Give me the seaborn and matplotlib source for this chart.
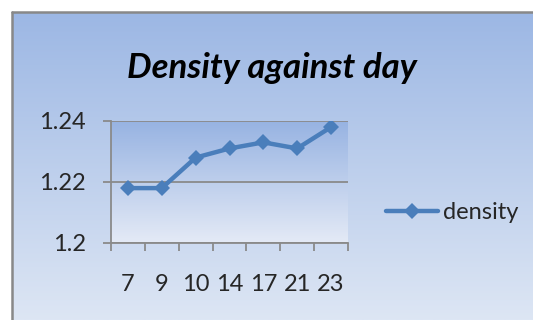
import numpy as np
import pandas as pd
import matplotlib
matplotlib.use('Agg')
import matplotlib.pyplot as plt
import seaborn as sns
from matplotlib.colors import LinearSegmentedColormap
from matplotlib.lines import Line2D

days = ['7', '9', '10', '14', '17', '21', '23']
density = [1.218, 1.218, 1.228, 1.231, 1.233, 1.231, 1.238]
y_ticks = [1.2, 1.22, 1.24]
y_labels = ['1.2', '1.22', '1.24']

sns.set_theme(style='white')
plt.rcParams['font.family'] = ['Lato', 'DejaVu Sans']

W, H = 533, 320
fig = plt.figure(figsize=(W / 100, H / 100), dpi=100)
fig.patch.set_facecolor('white')

# chart area background (gradient) with grey border on top and left
bg = fig.add_axes([12 / W, 0, 1 - 12 / W, 1 - 12 / H])
bg_cmap = LinearSegmentedColormap.from_list('bg', ['#9cb7e4', '#dde6f4'])
bg.imshow(np.linspace(0, 1, 256).reshape(-1, 1), aspect='auto', cmap=bg_cmap,
          extent=[0, 1, 0, 1], origin='upper')
bg.set_axis_off()
fig.add_artist(Line2D([12 / W, 12 / W], [0, 1 - 12 / H], color='#888888', lw=1.8,
                      transform=fig.transFigure))
fig.add_artist(Line2D([12 / W, 1], [1 - 12 / H, 1 - 12 / H], color='#888888', lw=1.8,
                      transform=fig.transFigure))

left, right = 111 / W, 348 / W
top, bottom = 1 - 121 / H, 1 - 243 / H
ax = fig.add_axes([left, bottom, right - left, top - bottom])
ax.patch.set_alpha(0)

df = pd.DataFrame({'day': days, 'density': density, 'pos': range(len(days))})

# plot area gradient
pa_cmap = LinearSegmentedColormap.from_list('pa', ['#97b3e2', '#e4eaf6'])
ax.imshow(np.linspace(0, 1, 256).reshape(-1, 1), aspect='auto', cmap=pa_cmap,
          extent=[-0.5, len(days) - 0.5, 1.2, 1.24], origin='upper', zorder=0)

sns.lineplot(data=df, x='pos', y='density', ax=ax, color='#4a7ebb', lw=3.2,
             marker='D', markersize=8, markeredgewidth=0, label='density',
             zorder=3)

ax.set_xlim(-0.5, len(days) - 0.5)
ax.set_ylim(1.2, 1.24)
ax.set_yticks(y_ticks)
ax.set_yticklabels(y_labels, fontsize=17)
ax.yaxis.grid(True, color='#8a8a8a', lw=1.3)
ax.set_axisbelow(False)

ax.set_xticks(np.arange(-0.5, len(days), 1.0))
ax.set_xticklabels([])
ax.set_xticks(range(len(days)), minor=True)
ax.set_xticklabels(days, minor=True, fontsize=17)
ax.tick_params(axis='x', which='major', length=6, width=1.3, color='#8a8a8a',
               direction='out', bottom=True)
ax.tick_params(axis='x', which='minor', length=0, pad=22)
ax.tick_params(axis='y', length=6, width=1.3, color='#8a8a8a', direction='out',
               left=True, pad=12)
ax.set_xlabel('')
ax.set_ylabel('')
for s in ['top', 'right']:
    ax.spines[s].set_visible(False)
for s in ['left', 'bottom']:
    ax.spines[s].set_color('#8a8a8a')
    ax.spines[s].set_linewidth(1.3)

leg = ax.legend(loc='center left', bbox_to_anchor=(1.12, 0.25), frameon=False,
                fontsize=17, handlelength=2.2, handletextpad=0.2, borderaxespad=0)

fig.text(272 / W, 1 - 68 / H, 'Density against day', ha='center', va='center',
         fontsize=25, fontweight='bold', fontstyle='italic', color='black')

fig.savefig('out.png', dpi=100)
